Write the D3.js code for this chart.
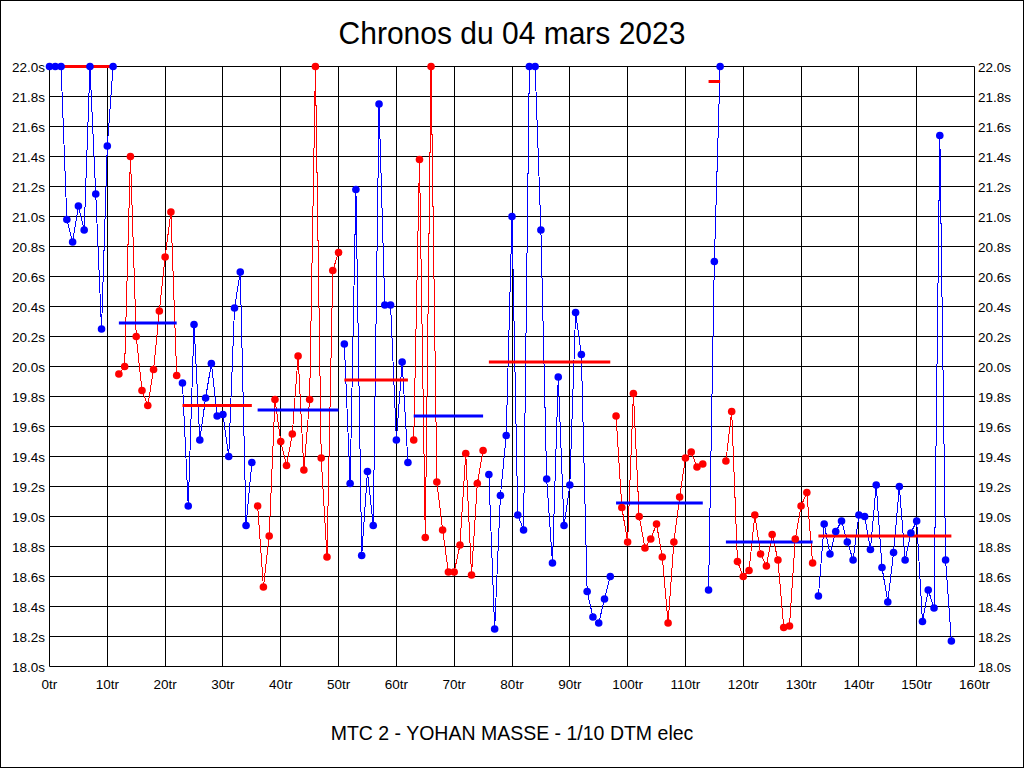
<!DOCTYPE html>
<html lang="fr">
<head>
<meta charset="UTF-8">
<title>Chronos</title>
<script src="https://d3js.org/d3.v7.min.js"></script>
<style>
  body { margin: 0; background: #fff; }
  text { font-family: "Liberation Sans", Arial, sans-serif; fill: #000; }
</style>
</head>
<body>
<script>
// chart data: one array of lap times per stint
const stintStart = [0, 12, 23, 36, 51, 63, 76, 98, 114, 117, 133];
const stintColor = ["blue", "red", "blue", "red", "blue", "red", "blue", "red", "blue", "red", "blue"];
const stintTimes = [
  [22.0, 22.0, 22.0, 20.98, 20.83, 21.07, 20.91, 22.0, 21.15, 20.25, 21.47, 22.0],
  [19.95, 20.0, 21.40, 20.20, 19.84, 19.74, 19.98, 20.37, 20.73, 21.03, 19.94],
  [19.89, 19.07, 20.28, 19.51, 19.79, 20.02, 19.67, 19.68, 19.40, 20.39, 20.63, 18.94, 19.36],
  [19.07, 18.53, 18.87, 19.78, 19.50, 19.34, 19.55, 20.07, 19.31, 19.78, 22.0, 19.39, 18.73, 20.64, 20.76],
  [20.15, 19.22, 21.18, 18.74, 19.30, 18.94, 21.75, 20.41, 20.41, 19.51, 20.03, 19.36],
  [19.51, 21.38, 18.86, 22.0, 19.23, 18.91, 18.63, 18.63, 18.81, 19.42, 18.61, 19.22, 19.44],
  [19.28, 18.25, 19.14, 19.54, 21.0, 19.01, 18.91, 22.0, 22.0, 20.91, 19.25, 18.69, 19.93, 18.94,
   19.21, 20.36, 20.08, 18.50, 18.33, 18.29, 18.45, 18.60],
  [19.67, 19.06, 18.83, 19.82, 19.00, 18.79, 18.85, 18.95, 18.73, 18.29, 18.83, 19.13, 19.39, 19.43, 19.33, 19.35],
  [18.51, 20.70, 22.0],
  [19.37, 19.70, 18.70, 18.60, 18.64, 19.01, 18.75, 18.67, 18.88, 18.71, 18.26, 18.27, 18.85, 19.07, 19.16, 18.69],
  [18.47, 18.95, 18.75, 18.90, 18.97, 18.83, 18.71, 19.01, 19.00, 18.78, 19.21, 18.66, 18.43, 18.76,
   19.20, 18.71, 18.89, 18.97, 18.30, 18.51, 18.39, 21.54, 18.71, 18.17]
];
const stintAverage = [22.0, 20.29, 19.74, 19.71, 19.91, 19.67, 20.03, 19.09, 21.9, 18.83, 18.87];
const yTicks = d3.range(18, 22.001, 0.2);
const xTicks = d3.range(0, 161, 10);

const width = 1024, height = 768;
const svg = d3.select("body").append("svg")
  .attr("width", width)
  .attr("height", height);

svg.append("rect")
  .attr("x", 0.5).attr("y", 0.5)
  .attr("width", width - 1).attr("height", height - 1)
  .attr("fill", "#fff").attr("stroke", "#000");

const x = d3.scaleLinear().domain([0, 160]).range([49.5, 974.5]);
const y = d3.scaleLinear().domain([18, 22]).range([666.5, 66.5]);

// grid
svg.append("g").selectAll("line").data(yTicks).join("line")
  .attr("x1", x(0)).attr("x2", x(160))
  .attr("y1", d => Math.round(y(d) - 0.5) + 0.5).attr("y2", d => Math.round(y(d) - 0.5) + 0.5)
  .attr("stroke", "#000");
svg.append("g").selectAll("line").data(xTicks).join("line")
  .attr("y1", y(18)).attr("y2", y(22))
  .attr("x1", d => Math.round(x(d) - 0.5) + 0.5).attr("x2", d => Math.round(x(d) - 0.5) + 0.5)
  .attr("stroke", "#000");

// tick labels
svg.append("g").selectAll("text").data(yTicks).join("text")
  .attr("x", 45).attr("y", d => y(d) + 5)
  .attr("text-anchor", "end").attr("font-size", 13.5)
  .text(d => d.toFixed(1) + "s");
svg.append("g").selectAll("text").data(yTicks).join("text")
  .attr("x", 978).attr("y", d => y(d) + 5)
  .attr("font-size", 13.5)
  .text(d => d.toFixed(1) + "s");
svg.append("g").selectAll("text").data(xTicks).join("text")
  .attr("x", d => x(d)).attr("y", 689)
  .attr("text-anchor", "middle").attr("font-size", 13.5)
  .text(d => d + "tr");

// stints
const line = d3.line().x(d => x(d[0])).y(d => y(d[1]));
const other = c => (c === "blue" ? "red" : "blue");

stintTimes.forEach((times, i) => {
  const pts = times.map((t, k) => [stintStart[i] + k, t]);
  const g = svg.append("g");
  g.append("path")
    .attr("d", line(pts))
    .attr("fill", "none")
    .attr("stroke", stintColor[i])
    .attr("stroke-width", 1)
    .attr("shape-rendering", "crispEdges");
  g.append("line")
    .attr("x1", x(pts[0][0])).attr("x2", x(pts[pts.length - 1][0]))
    .attr("y1", y(stintAverage[i])).attr("y2", y(stintAverage[i]))
    .attr("stroke", other(stintColor[i]))
    .attr("stroke-width", 3);
  g.selectAll("circle").data(pts).join("circle")
    .attr("cx", d => x(d[0])).attr("cy", d => y(d[1]))
    .attr("r", 3.8)
    .attr("fill", stintColor[i]);
});

// titles
svg.append("text")
  .attr("x", 512).attr("y", 44)
  .attr("text-anchor", "middle").attr("font-size", 30)
  .attr("transform", "translate(512,0) scale(1,1.05) translate(-512,-2)")
  .text("Chronos du 04 mars 2023");
svg.append("text")
  .attr("x", 512).attr("y", 740)
  .attr("text-anchor", "middle").attr("font-size", 19.5)
  .text("MTC 2 - YOHAN MASSE - 1/10 DTM elec");
</script>
</body>
</html>
